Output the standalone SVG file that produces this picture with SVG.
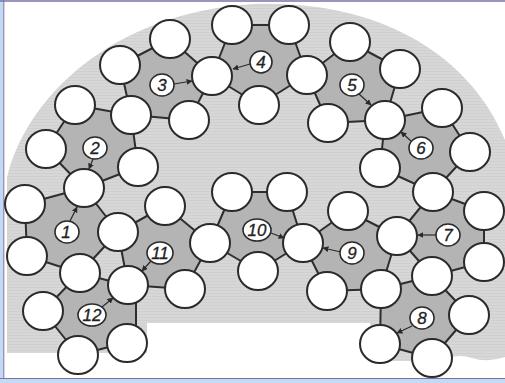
<svg xmlns="http://www.w3.org/2000/svg" width="505" height="383" viewBox="0 0 505 383">
<style>
.pent{fill:#b4b4b4;stroke:#2e2e2e;stroke-width:2;stroke-linejoin:round}
.c{fill:#ffffff;stroke:#2a2a2a;stroke-width:2}
.lab{fill:#ffffff;stroke:#2a2a2a;stroke-width:1.6}
.t{font-family:"Liberation Sans",Arial,sans-serif;font-style:italic;font-size:17px;fill:#222;stroke:#222;stroke-width:0.3;text-anchor:middle}
.ar{stroke:#2a2a2a;stroke-width:1.2;fill:none;marker-end:url(#ah)}
</style>
<defs>
<marker id="ah" viewBox="0 0 10 10" refX="9" refY="5" markerWidth="6" markerHeight="6" markerUnits="userSpaceOnUse" orient="auto">
<path d="M0,0 L10,5 L0,10 Z" fill="#2a2a2a"/>
</marker>
<pattern id="stripes" width="4" height="3" patternUnits="userSpaceOnUse">
<rect width="4" height="3" fill="#d7d7d7"/>
<rect y="2" width="4" height="1" fill="#d0d0d0"/>
</pattern>
</defs>
<rect x="0" y="0" width="505" height="383" fill="#ffffff"/>
<g id="frame">
<rect x="0" y="0" width="3.5" height="383" fill="#c3daf4"/>
<rect x="0" y="379" width="505" height="4" fill="#c3daf4"/>
<line x1="0" y1="1" x2="505" y2="1" stroke="#7a72a6" stroke-width="1.5"/>
<line x1="3.8" y1="0" x2="3.8" y2="379" stroke="#7a72a6" stroke-width="1"/>
<line x1="0" y1="378.5" x2="505" y2="378.5" stroke="#7a72a6" stroke-width="1.2"/>
</g>
<g id="background">
<path d="M7,178 C25,100 110,12 255,4 C380,0 470,55 505,140 L505,357 Q488,363 472,358 Q457,353 442,361 L372,361 L370,323 L147,323 L147,353 L7,353 Z" fill="url(#stripes)"/>
</g>
<g id="pentagons">
<polygon id="p1" class="pent" points="84,188 118,232 80,273 27,256 25,204"/>
<polygon id="p2" class="pent" points="75,105 131,115 138,167 84,188 46,149"/>
<polygon id="p3" class="pent" points="120,65 170,39 212,76 189,120 131,115"/>
<polygon id="p4" class="pent" points="232,25 289,25 307,75 259,105 212,76"/>
<polygon id="p5" class="pent" points="307,75 350,42 400,69 385,120 328,123"/>
<polygon id="p6" class="pent" points="385,120 442,108 470,152 433,192 380,168"/>
<polygon id="p7" class="pent" points="433,192 484,211 484,262 432,276 397,236"/>
<polygon id="p8" class="pent" points="381,289 432,276 469,315 432,358 380,344"/>
<polygon id="p9" class="pent" points="348,211 397,236 381,289 327,291 303,243"/>
<polygon id="p10" class="pent" points="232,192 287,192 303,243 258,271 210,243"/>
<polygon id="p11" class="pent" points="165,206 210,243 185,289 128,285 118,232"/>
<polygon id="p12" class="pent" points="80,273 136,288 136,340 78,355 43,311"/>
</g>
<g id="circles">
<ellipse id="cA" class="c" cx="25" cy="204" rx="20" ry="19"/>
<ellipse id="cB" class="c" cx="84" cy="188" rx="20" ry="19"/>
<ellipse id="cC" class="c" cx="27" cy="256" rx="20" ry="19"/>
<ellipse id="cD" class="c" cx="80" cy="273" rx="20" ry="19"/>
<ellipse id="cE" class="c" cx="118" cy="232" rx="20" ry="19"/>
<ellipse id="cF" class="c" cx="75" cy="105" rx="20" ry="19"/>
<ellipse id="cG" class="c" cx="131" cy="115" rx="20" ry="19"/>
<ellipse id="cH" class="c" cx="138" cy="167" rx="20" ry="19"/>
<ellipse id="cI" class="c" cx="46" cy="149" rx="20" ry="19"/>
<ellipse id="cJ" class="c" cx="120" cy="65" rx="20" ry="19"/>
<ellipse id="cK" class="c" cx="170" cy="39" rx="20" ry="19"/>
<ellipse id="cL" class="c" cx="212" cy="76" rx="20" ry="19"/>
<ellipse id="cM" class="c" cx="189" cy="120" rx="20" ry="19"/>
<ellipse id="cN" class="c" cx="232" cy="25" rx="20" ry="19"/>
<ellipse id="cO" class="c" cx="289" cy="25" rx="20" ry="19"/>
<ellipse id="cP" class="c" cx="307" cy="75" rx="20" ry="19"/>
<ellipse id="cQ" class="c" cx="259" cy="105" rx="20" ry="19"/>
<ellipse id="cR" class="c" cx="350" cy="42" rx="20" ry="19"/>
<ellipse id="cS" class="c" cx="400" cy="69" rx="20" ry="19"/>
<ellipse id="cT" class="c" cx="385" cy="120" rx="20" ry="19"/>
<ellipse id="cU" class="c" cx="328" cy="123" rx="20" ry="19"/>
<ellipse id="cV" class="c" cx="442" cy="108" rx="20" ry="19"/>
<ellipse id="cW" class="c" cx="470" cy="152" rx="20" ry="19"/>
<ellipse id="cX" class="c" cx="433" cy="192" rx="20" ry="19"/>
<ellipse id="cY" class="c" cx="380" cy="168" rx="20" ry="19"/>
<ellipse id="cAA" class="c" cx="484" cy="211" rx="20" ry="19"/>
<ellipse id="cAB" class="c" cx="484" cy="262" rx="20" ry="19"/>
<ellipse id="cAC" class="c" cx="432" cy="276" rx="20" ry="19"/>
<ellipse id="cAD" class="c" cx="397" cy="236" rx="20" ry="19"/>
<ellipse id="cAE" class="c" cx="381" cy="289" rx="20" ry="19"/>
<ellipse id="cAF" class="c" cx="469" cy="315" rx="20" ry="19"/>
<ellipse id="cAG" class="c" cx="432" cy="358" rx="20" ry="19"/>
<ellipse id="cAH" class="c" cx="380" cy="344" rx="20" ry="19"/>
<ellipse id="cAI" class="c" cx="303" cy="243" rx="20" ry="19"/>
<ellipse id="cAJ" class="c" cx="348" cy="211" rx="20" ry="19"/>
<ellipse id="cAK" class="c" cx="327" cy="291" rx="20" ry="19"/>
<ellipse id="cAL" class="c" cx="232" cy="192" rx="20" ry="19"/>
<ellipse id="cAM" class="c" cx="287" cy="192" rx="20" ry="19"/>
<ellipse id="cAN" class="c" cx="258" cy="271" rx="20" ry="19"/>
<ellipse id="cAO" class="c" cx="210" cy="243" rx="20" ry="19"/>
<ellipse id="cAP" class="c" cx="165" cy="206" rx="20" ry="19"/>
<ellipse id="cAQ" class="c" cx="185" cy="289" rx="20" ry="19"/>
<ellipse id="cAR" class="c" cx="128" cy="285" rx="20" ry="19"/>
<ellipse id="cAS" class="c" cx="127" cy="343" rx="20" ry="19"/>
<ellipse id="cAT" class="c" cx="78" cy="355" rx="20" ry="19"/>
<ellipse id="cAU" class="c" cx="43" cy="311" rx="20" ry="19"/>
</g>
<g id="connectors">
<line class="ar" x1="174" y1="84" x2="192" y2="81"/>
<line class="ar" x1="250" y1="64" x2="233" y2="69"/>
<line class="ar" x1="359" y1="94" x2="371" y2="105"/>
<line class="ar" x1="411" y1="141" x2="401" y2="132"/>
<line class="ar" x1="70" y1="221" x2="77" y2="207"/>
<line class="ar" x1="93" y1="159" x2="89" y2="169"/>
<line class="ar" x1="151" y1="261" x2="142" y2="271"/>
<line class="ar" x1="102" y1="307" x2="113" y2="298"/>
<line class="ar" x1="271" y1="233" x2="284" y2="238"/>
<line class="ar" x1="341" y1="252" x2="323" y2="248"/>
<line class="ar" x1="436" y1="235" x2="418" y2="235"/>
<line class="ar" x1="412" y1="326" x2="397" y2="333"/>
</g>
<g id="label1"><ellipse class="lab" cx="67" cy="232" rx="12" ry="11"/><text class="t" x="66" y="238">1</text></g>
<g id="label2"><ellipse class="lab" cx="95" cy="148" rx="12" ry="11"/><text class="t" x="95" y="154">2</text></g>
<g id="label3"><ellipse class="lab" cx="162" cy="85" rx="12" ry="11"/><text class="t" x="162" y="91">3</text></g>
<g id="label4"><ellipse class="lab" cx="261" cy="62" rx="11" ry="11"/><text class="t" x="261" y="68">4</text></g>
<g id="label5"><ellipse class="lab" cx="352" cy="85" rx="12" ry="11"/><text class="t" x="352" y="91">5</text></g>
<g id="label6"><ellipse class="lab" cx="421" cy="148" rx="12" ry="11"/><text class="t" x="421" y="154">6</text></g>
<g id="label7"><ellipse class="lab" cx="448" cy="235" rx="12" ry="11"/><text class="t" x="448" y="241">7</text></g>
<g id="label8"><ellipse class="lab" cx="422" cy="318" rx="12" ry="11"/><text class="t" x="422" y="324">8</text></g>
<g id="label9"><ellipse class="lab" cx="352" cy="253" rx="12" ry="11"/><text class="t" x="352" y="259">9</text></g>
<g id="label10"><ellipse class="lab" cx="257" cy="230" rx="14" ry="11"/><text class="t" x="257" y="236">10</text></g>
<g id="label11"><ellipse class="lab" cx="160" cy="253" rx="13" ry="11"/><text class="t" x="160" y="259">11</text></g>
<g id="label12"><ellipse class="lab" cx="92" cy="315" rx="14" ry="11"/><text class="t" x="92" y="321">12</text></g>
</svg>
